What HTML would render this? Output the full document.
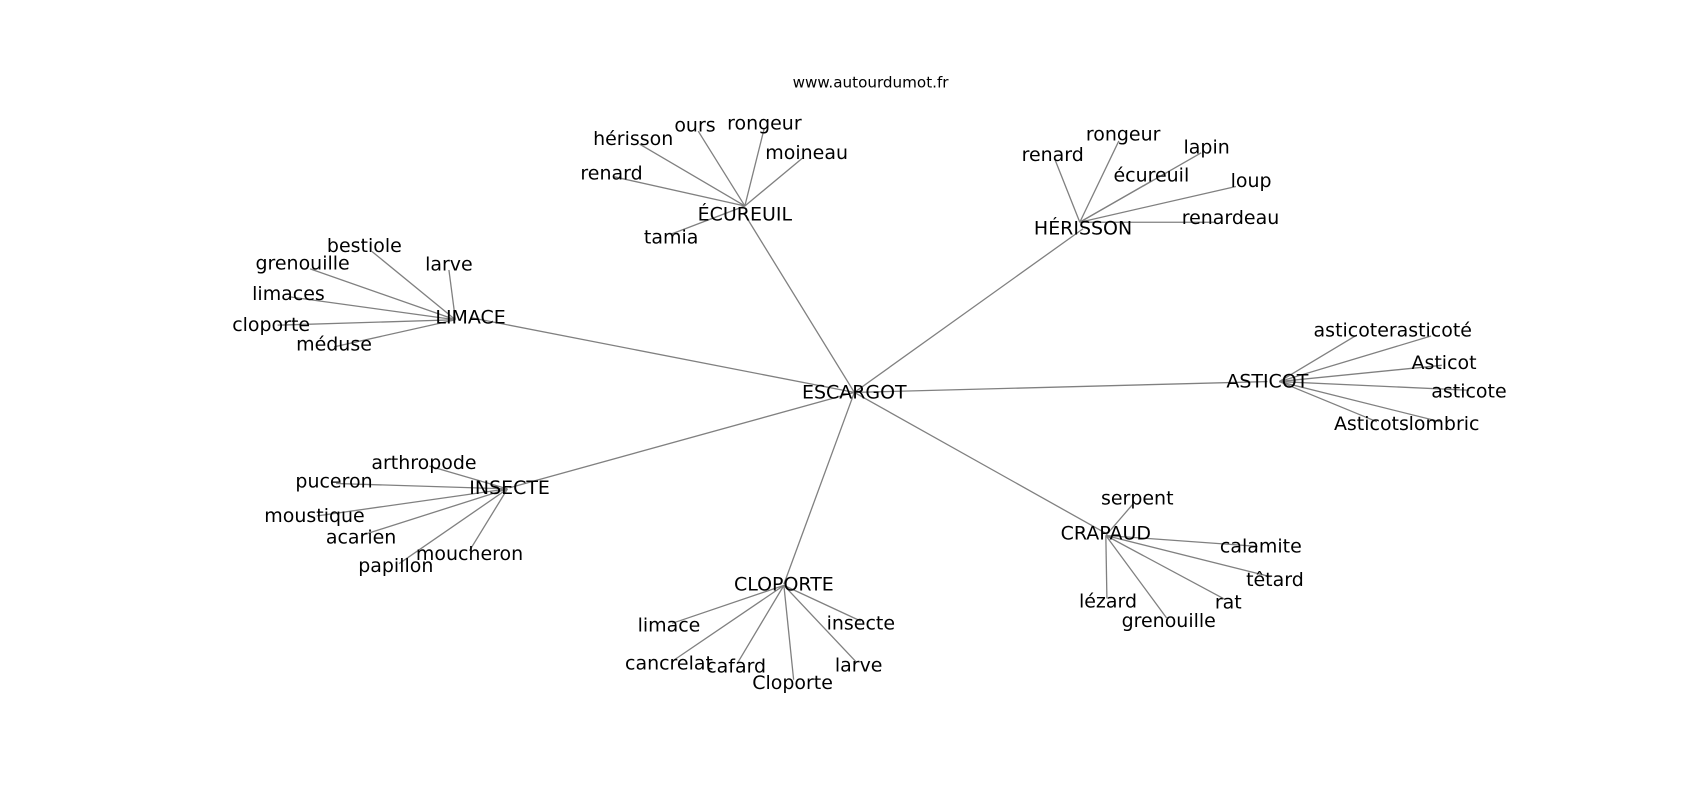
<!DOCTYPE html>
<html><head><meta charset="utf-8"><style>
html,body{margin:0;padding:0;background:#fff;}
svg{display:block}
text{font-family:"DejaVu Sans","Liberation Sans",sans-serif;font-size:17.5px;fill:#000;text-anchor:middle;dominant-baseline:central}
line{stroke:#808080;stroke-width:1.2}
</style></head><body>
<svg width="1700" height="800" viewBox="0 0 1568 738" xmlns="http://www.w3.org/2000/svg">
<g id="e">
<line x1="788" y1="362" x2="687" y2="198"/>
<line x1="788" y1="362" x2="999" y2="211"/>
<line x1="788" y1="362" x2="434" y2="293"/>
<line x1="788" y1="362" x2="1169" y2="352"/>
<line x1="788" y1="362" x2="470" y2="450"/>
<line x1="788" y1="362" x2="723" y2="539"/>
<line x1="788" y1="362" x2="1020" y2="492"/>

<line x1="687" y1="190" x2="590" y2="133"/>
<line x1="687" y1="190" x2="644" y2="121"/>
<line x1="687" y1="190" x2="705" y2="118"/>
<line x1="687" y1="190" x2="740" y2="146"/>
<line x1="687" y1="190" x2="566" y2="163"/>
<line x1="687" y1="190" x2="619" y2="216"/>

<line x1="996" y1="205" x2="973" y2="147"/>
<line x1="996" y1="205" x2="1032" y2="130"/>
<line x1="996" y1="205" x2="1108" y2="141"/>
<line x1="996" y1="205" x2="1064" y2="166"/>
<line x1="996" y1="205" x2="1140" y2="172"/>
<line x1="996" y1="205" x2="1120" y2="205"/>

<line x1="420" y1="295" x2="343" y2="232"/>
<line x1="420" y1="295" x2="414" y2="249"/>
<line x1="420" y1="295" x2="286" y2="248"/>
<line x1="420" y1="295" x2="268" y2="274"/>
<line x1="420" y1="295" x2="256" y2="300"/>
<line x1="420" y1="295" x2="308" y2="320"/>

<line x1="1180" y1="352" x2="1250" y2="310"/>
<line x1="1180" y1="352" x2="1320" y2="310"/>
<line x1="1180" y1="352" x2="1330" y2="337"/>
<line x1="1180" y1="352" x2="1355" y2="360"/>
<line x1="1180" y1="352" x2="1270" y2="389"/>
<line x1="1180" y1="352" x2="1328" y2="389"/>

<line x1="468" y1="451" x2="396" y2="430"/>
<line x1="468" y1="451" x2="310" y2="446"/>
<line x1="468" y1="451" x2="292" y2="476"/>
<line x1="468" y1="451" x2="333" y2="494"/>
<line x1="468" y1="451" x2="368" y2="520"/>
<line x1="468" y1="451" x2="433" y2="508"/>

<line x1="723" y1="540" x2="620" y2="575"/>
<line x1="723" y1="540" x2="794" y2="573"/>
<line x1="723" y1="540" x2="620" y2="610"/>
<line x1="723" y1="540" x2="680" y2="612"/>
<line x1="723" y1="540" x2="732" y2="627"/>
<line x1="723" y1="540" x2="790" y2="611"/>

<line x1="1020" y1="494" x2="1045" y2="465"/>
<line x1="1020" y1="494" x2="1160" y2="504"/>
<line x1="1020" y1="494" x2="1172" y2="532"/>
<line x1="1020" y1="494" x2="1130" y2="553"/>
<line x1="1020" y1="494" x2="1021" y2="552"/>
<line x1="1020" y1="494" x2="1076" y2="570"/>
</g>
<text x="803" y="76" style="font-size:14px">www.autourdumot.fr</text>

<text x="788" y="362">ESCARGOT</text>

<text x="687" y="198">ÉCUREUIL</text>
<text x="584" y="128">hérisson</text>
<text x="641" y="116">ours</text>
<text x="705" y="114">rongeur</text>
<text x="744" y="141">moineau</text>
<text x="564" y="160">renard</text>
<text x="619" y="219">tamia</text>

<text x="999" y="211">HÉRISSON</text>
<text x="971" y="143">renard</text>
<text x="1036" y="124">rongeur</text>
<text x="1113" y="136">lapin</text>
<text x="1062" y="162">écureuil</text>
<text x="1154" y="167">loup</text>
<text x="1135" y="201">renardeau</text>

<text x="434" y="293">LIMACE</text>
<text x="336" y="227">bestiole</text>
<text x="414" y="244">larve</text>
<text x="279" y="243">grenouille</text>
<text x="266" y="271">limaces</text>
<text x="250" y="300">cloporte</text>
<text x="308" y="318">méduse</text>

<text x="1169" y="352">ASTICOT</text>
<text x="1250" y="305">asticoter</text>
<text x="1323" y="305">asticoté</text>
<text x="1332" y="335">Asticot</text>
<text x="1355" y="361">asticote</text>
<text x="1265" y="391">Asticots</text>
<text x="1332" y="391">lombric</text>

<text x="470" y="450">INSECTE</text>
<text x="391" y="427">arthropode</text>
<text x="308" y="444">puceron</text>
<text x="290" y="476">moustique</text>
<text x="333" y="496">acarien</text>
<text x="365" y="522">papillon</text>
<text x="433" y="511">moucheron</text>

<text x="723" y="539">CLOPORTE</text>
<text x="617" y="577">limace</text>
<text x="794" y="575">insecte</text>
<text x="617" y="612">cancrelat</text>
<text x="679" y="615">cafard</text>
<text x="731" y="630">Cloporte</text>
<text x="792" y="614">larve</text>

<text x="1020" y="492">CRAPAUD</text>
<text x="1049" y="460">serpent</text>
<text x="1163" y="504">calamite</text>
<text x="1176" y="535">têtard</text>
<text x="1133" y="556">rat</text>
<text x="1022" y="555">lézard</text>
<text x="1078" y="573">grenouille</text>
</svg>
</body></html>
